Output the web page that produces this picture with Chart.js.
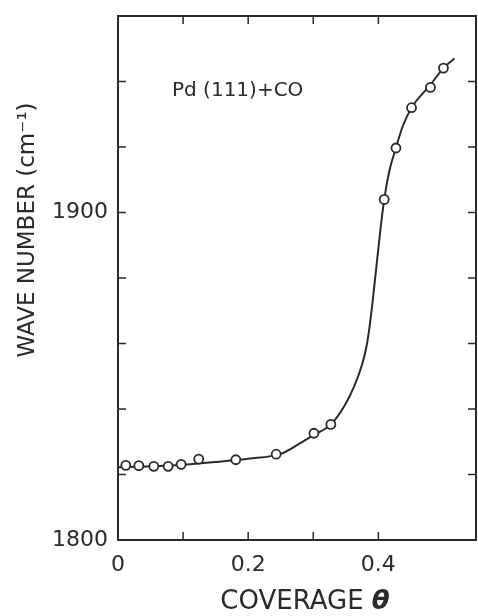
<!DOCTYPE html>
<html>
<head>
<meta charset="utf-8">
<script src="https://cdn.jsdelivr.net/npm/chart.js@4.4.1/dist/chart.umd.min.js"></script>
<style>
  html, body { margin: 0; padding: 0; background: #fff; }
</style>
</head>
<body>
<canvas id="myChart" width="478" height="616"></canvas>
<script>
// measured points (open circles)
const coverage   = [0.012, 0.032, 0.055, 0.077, 0.097, 0.124, 0.181, 0.243, 0.301, 0.327, 0.409, 0.427, 0.451, 0.480, 0.500];
const wavenumber = [1822.8, 1822.7, 1822.5, 1822.5, 1823.1, 1824.7, 1824.5, 1826.2, 1832.6, 1835.3, 1904.0, 1919.7, 1932.0, 1938.2, 1944.1];

// drawn curve
const curveX = [0.0, 0.05, 0.10, 0.15, 0.20, 0.25, 0.277, 0.30, 0.327, 0.348, 0.363, 0.375, 0.381, 0.385, 0.391, 0.397, 0.403, 0.409, 0.417, 0.427, 0.437, 0.451, 0.480, 0.500, 0.517];
const curveY = [1822.2, 1822.5, 1823.0, 1823.8, 1824.8, 1826.3, 1829.2, 1832.0, 1835.3, 1841.0, 1847.0, 1853.6, 1858.3, 1863.0, 1872.5, 1883.5, 1894.5, 1904.0, 1912.8, 1919.7, 1926.1, 1932.0, 1939.0, 1944.1, 1947.0];

// tick labels shown
const xTickLabels = { '0': '0', '0.2': '0.2', '0.4': '0.4' };
const yTickLabels = { '1800': '1800', '1900': '1900' };

const ink = '#2a2a2a';

// frame, inward ticks on all four sides, titles and the note
const frameAndText = {
  id: 'frameAndText',
  afterDraw(chart) {
    const { ctx, chartArea: a, scales: { x, y } } = chart;
    ctx.save();
    ctx.strokeStyle = ink;
    ctx.lineWidth = 2;
    ctx.strokeRect(a.left, a.top, a.right - a.left, a.bottom - a.top);

    ctx.lineWidth = 1.5;
    ctx.beginPath();
    x.ticks.forEach(t => {
      const px = x.getPixelForValue(t.value);
      ctx.moveTo(px, a.bottom); ctx.lineTo(px, a.bottom - 8);
      ctx.moveTo(px, a.top);    ctx.lineTo(px, a.top + 8);
    });
    y.ticks.forEach(t => {
      const py = y.getPixelForValue(t.value);
      ctx.moveTo(a.left, py);  ctx.lineTo(a.left + 8, py);
      ctx.moveTo(a.right, py); ctx.lineTo(a.right - 8, py);
    });
    ctx.stroke();

    ctx.fillStyle = ink;
    ctx.textBaseline = 'middle';

    // y title
    ctx.save();
    ctx.translate(28, 230);
    ctx.rotate(-Math.PI / 2);
    ctx.textAlign = 'center';
    ctx.font = '23px "DejaVu Sans"';
    ctx.fillText('WAVE NUMBER (cm\u207B\u00B9)', 0, 0);
    ctx.restore();

    // x title
    ctx.font = '26px "DejaVu Sans"';
    ctx.textAlign = 'left';
    const part = 'COVERAGE ';
    const w1 = ctx.measureText(part).width;
    ctx.font = 'italic bold 26px "DejaVu Sans"';
    const w2 = ctx.measureText('\u03B8').width;
    const x0 = 305 - (w1 + w2) / 2;
    ctx.font = '26px "DejaVu Sans"';
    ctx.fillText(part, x0, 602);
    ctx.font = 'italic bold 26px "DejaVu Sans"';
    ctx.fillText('\u03B8', x0 + w1, 602);

    // note
    ctx.font = '20px "DejaVu Sans"';
    ctx.fillText('Pd (111)+CO', 172, 91);
    ctx.restore();
  }
};

// fixed axis box sizes, no extra label padding
function fixBox(size) {
  return s => {
    if (s.isHorizontal()) s.height = size; else s.width = size;
    s.paddingTop = s.paddingBottom = s.paddingLeft = s.paddingRight = 0;
  };
}

const ctx = document.getElementById('myChart').getContext('2d');
new Chart(ctx, {
  type: 'scatter',
  data: {
    datasets: [
      {
        label: 'fit',
        data: curveX.map((v, i) => ({ x: v, y: curveY[i] })),
        showLine: true,
        borderColor: ink,
        borderWidth: 2,
        pointRadius: 0,
        cubicInterpolationMode: 'monotone',
        order: 2
      },
      {
        label: 'measured',
        data: coverage.map((v, i) => ({ x: v, y: wavenumber[i] })),
        pointRadius: 4.5,
        pointBorderWidth: 1.8,
        pointBackgroundColor: '#fff',
        pointBorderColor: ink,
        order: 1
      }
    ]
  },
  options: {
    responsive: false,
    animation: false,
    devicePixelRatio: 1,
    layout: { autoPadding: false, padding: { top: 16, right: 2, left: 0, bottom: 0 } },
    plugins: { legend: { display: false }, tooltip: { enabled: false } },
    scales: {
      x: {
        type: 'linear',
        min: 0, max: 0.55,
        grid: { display: false, drawTicks: false },
        border: { display: false },
        ticks: {
          stepSize: 0.1,
          padding: 12,
          color: ink,
          font: { family: 'DejaVu Sans', size: 22 },
          maxRotation: 0,
          autoSkip: false,
          callback: v => xTickLabels[String(Math.round(v * 10) / 10)] || ''
        },
        afterFit: fixBox(76)
      },
      y: {
        type: 'linear',
        min: 1800, max: 1960,
        grid: { display: false, drawTicks: false },
        border: { display: false },
        ticks: {
          stepSize: 20,
          padding: 10,
          color: ink,
          font: { family: 'DejaVu Sans', size: 22 },
          autoSkip: false,
          callback: v => yTickLabels[String(v)] || ''
        },
        afterFit: fixBox(118)
      }
    }
  },
  plugins: [frameAndText]
});
</script>
</body>
</html>
